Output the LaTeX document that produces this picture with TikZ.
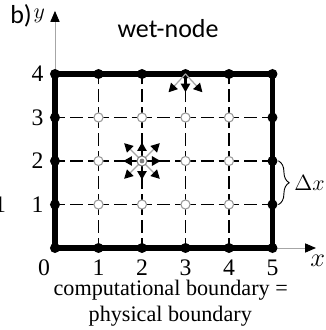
\documentclass[tikz,border=0pt]{standalone}
\usepackage{fontspec}
\setmainfont{Liberation Serif}
\newfontfamily\wnsans{Carlito}
\usetikzlibrary{arrows.meta,decorations.pathreplacing}
\tikzset{
  every picture/.append style={line cap=round,line join=round},
  wn wall/.style={line width=3.4pt},
  wn grid/.style={line width=1.2pt,line cap=butt,dash pattern=on 0.29cm off 0.115cm,dash phase=0.05cm},
  wn axis/.style={gray!70,line width=0.6pt,-{Triangle[length=2.5mm,width=2.1mm,black]}},
  wn dot/.style={circle,fill=black,inner sep=0pt,minimum size=2.3mm},
  wn open/.style={circle,draw=gray!80,fill=white,line width=0.7pt,inner sep=0pt,minimum size=2.1mm},
  wn push/.style={line width=1.6pt,line cap=butt,-{Triangle[length=2mm,width=2.1mm]}},
  wn slant/.style={gray!70,line width=0.8pt,-{Triangle[length=2mm,width=2.1mm,black]}},
  wn num/.style={font=\fontsize{15.5}{18}\selectfont,inner sep=0pt},
  wn note/.style={font=\fontsize{14.5}{17.4}\selectfont,inner sep=0pt}
}
\begin{document}
\begin{tikzpicture}
\useasboundingbox (-1.264,-1.885) rectangle (6.23,5.701);
% grid points
\foreach \i in {0,...,5}{
  \foreach \j in {0,...,4}{
    \coordinate (c-\i-\j) at (\i,\j);
  }
}
% axes
\coordinate (x tip) at (6,0);
\coordinate (y tip) at (0,5.45);
\draw[wn axis] (c-0-0) -- (x tip);
\draw[wn axis] (c-0-0) -- (y tip);
% dashed interior lines
\foreach \j in {1,2,3}{
  \foreach \i [count=\k] in {0,...,4}{
    \draw[wn grid] (c-\i-\j) -- (c-\k-\j);
  }
}
\foreach \i in {1,...,4}{
  \foreach \j [count=\k] in {0,...,3}{
    \draw[wn grid] (c-\i-\j) -- (c-\i-\k);
  }
}
% boundary
\draw[wn wall] (c-0-0) rectangle (c-5-4);
\foreach \i in {0,...,5}{
  \node[wn dot] (b-\i-0) at (c-\i-0) {};
  \node[wn dot] (b-\i-4) at (c-\i-4) {};
}
\foreach \j in {1,2,3}{
  \node[wn dot] (b-0-\j) at (c-0-\j) {};
  \node[wn dot] (b-5-\j) at (c-5-\j) {};
}
\foreach \i in {1,...,4}{
  \foreach \j in {1,2,3}{
    \node[wn open] (w-\i-\j) at (c-\i-\j) {};
  }
}
% fluxes out of the wet node
\foreach \a in {0,90,180,270}{
  \path (c-2-2) ++(\a:0.43) coordinate (f-\a);
  \draw[wn push] (c-2-2) -- (f-\a);
}
\foreach \a in {45,135,225,315}{
  \path (c-2-2) ++(\a:0.58) coordinate (f-\a);
  \draw[wn slant] (c-2-2) -- (f-\a);
}
\node[circle,draw=gray,fill=white,line width=0.7pt,inner sep=0pt,minimum size=2.3mm] (src) at (c-2-2) {};
\node[circle,fill=gray,inner sep=0pt,minimum size=1.1mm] (src core) at (c-2-2) {};
% fluxes from the wall node
\path (c-3-4) ++(0,-0.42) coordinate (g-d);
\path (c-3-4) ++(-0.39,-0.42) coordinate (g-l);
\path (c-3-4) ++(0.39,-0.42) coordinate (g-r);
\draw[wn push] (c-3-4) -- (g-d);
\draw[wn slant] (c-3-4) -- (g-l);
\draw[wn slant] (c-3-4) -- (g-r);
% labels
\node[wn num] (lx-0) at (-0.25,-0.45) {0};
\foreach \i in {1,...,5}{
  \node[wn num] (lx-\i) at (\i,-0.45) {\i};
}
\foreach \j in {1,...,4}{
  \node[wn num] (ly-\j) at (-0.4,\j) {\j};
}
\node[wn num,anchor=east] (edge one) at (-1.12,1) {1};
\node[font=\fontsize{16}{19}\selectfont] (x lab) at (6.04,-0.3) {$x$};
\node[font=\fontsize{15}{18}\selectfont] (y lab) at (-0.36,5.33) {$y$};
\node[font=\wnsans\fontsize{17}{20}\selectfont] (panel) at (-0.78,5.33) {b)};
\node[font=\wnsans\fontsize{17}{20}\selectfont,anchor=base] (title) at (2.6,4.83) {wet-node};
\coordinate (brace top) at (5.14,2);
\coordinate (brace bot) at (5.14,1);
\draw[decorate,decoration={brace,amplitude=7pt},line width=0.6pt] (brace top) -- (brace bot);
\node[font=\fontsize{15}{18}\selectfont] (dx) at (5.85,1.5) {$\Delta x$};
\node[wn note,anchor=base] (cap one) at (2.66,-1.10) {computational boundary =};
\node[wn note,anchor=base] (cap two) at (2.65,-1.70) {physical boundary};
\end{tikzpicture}
\end{document}
